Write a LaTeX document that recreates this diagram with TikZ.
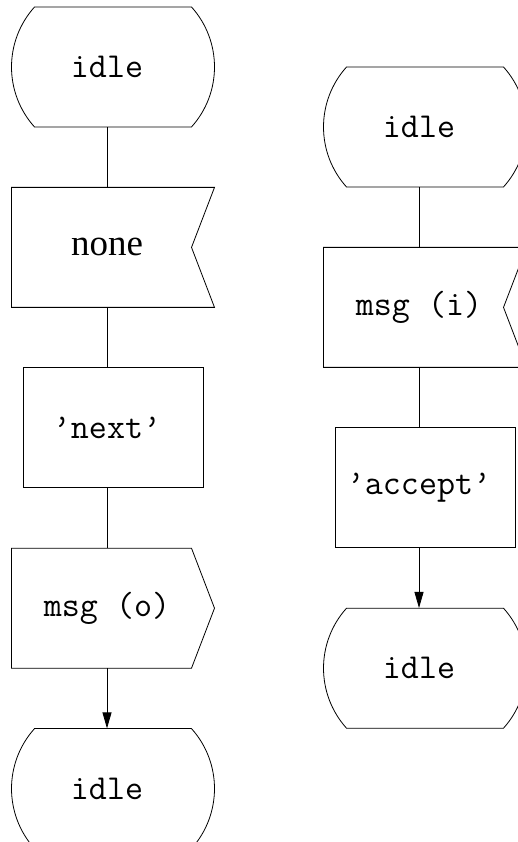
\documentclass[tikz,border=0pt]{standalone}
\usepackage{fontspec}
\setmainfont{Liberation Serif}
\usetikzlibrary{positioning,arrows.meta}

\tikzset{
  blk/.style={minimum width=203pt, minimum height=120pt, inner sep=0pt,
    font=\fontsize{35}{40}\selectfont\ttfamily},
  outline/.style={line width=0.8pt, shift={(\tikzlastnode.center)}, xshift=6pt},
  state/.style={blk, append after command={\pgfextra{
    \draw[outline] (-78.5,60) -- (78.5,60)
      arc[start angle=41.94, end angle=-41.94, radius=89.76]
      -- (-78.5,-60)
      arc[start angle=221.94, end angle=138.06, radius=89.76] -- cycle;}}},
  input/.style={blk, append after command={\pgfextra{
    \draw[outline] (-101.5,60) -- (101.5,60) -- (78.5,0) -- (101.5,-60)
      -- (-101.5,-60) -- cycle;}}},
  output/.style={blk, append after command={\pgfextra{
    \draw[outline] (-101.5,60) -- (78.5,60) -- (101.5,0) -- (78.5,-60)
      -- (-101.5,-60) -- cycle;}}},
  task/.style={blk, append after command={\pgfextra{
    \draw[outline] (-90,60) rectangle (90,-60);}}},
  link/.style={line width=0.8pt},
  flow/.style={line width=0.8pt, -{Triangle[length=16pt,width=9pt]}}
}

\begin{document}
\begin{tikzpicture}[x=1pt, y=1pt, node distance=60pt]
  \useasboundingbox (0,0) rectangle (517,842);

  % Columna izquierda
  \node[state] (idleA) at (107,775) {idle};
  \node[input, below=of idleA] (none) {\fontsize{37}{42}\selectfont\rmfamily none};
  \node[task, below=of none] (next) {’next’};
  \node[output, below=of next] (msgO) {msg (o)};
  \node[state, below=of msgO] (idleB) {idle};

  % Columna derecha
  \node[state] (idleC) at (419,715) {idle};
  \node[input, below=of idleC] (msgI) {msg (i)};
  \node[task, below=of msgI] (accept) {’accept’};
  \node[state, below=of accept] (idleD) {idle};

  % Conexiones
  \draw[link] (idleA) -- (none);
  \draw[link] (none) -- (next);
  \draw[link] (next) -- (msgO);
  \draw[flow] (msgO) -- (idleB);

  \draw[link] (idleC) -- (msgI);
  \draw[link] (msgI) -- (accept);
  \draw[flow] (accept) -- (idleD);
\end{tikzpicture}
\end{document}
